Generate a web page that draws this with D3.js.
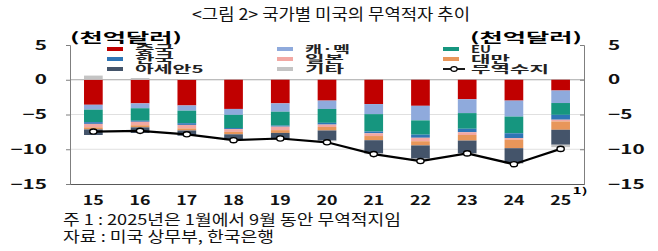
<!DOCTYPE html>
<html>
<head>
<meta charset="utf-8">
<script src="https://cdn.jsdelivr.net/npm/d3@7"></script>
<style>
  body { margin: 0; background: #fff; }
  text { font-family: "Noto Sans CJK KR", "Noto Sans", sans-serif; }
</style>
</head>
<body>
<svg id="chart" width="658" height="251"></svg>
<script>
// data (천억달러)
var years   = ["15","16","17","18","19","20","21","22","23","24","25"];
var china   = [-3.6, -3.4, -3.7, -4.2, -3.4, -3.0, -3.5, -3.75, -2.8, -3.0, -1.55];
var canmex  = [-0.7, -0.7, -0.75, -0.85, -1.2, -1.2, -1.45, -2.1, -2.0, -2.3, -1.8];
var eu      = [-1.8, -1.8, -1.8, -1.9, -2.0, -2.0, -2.5, -2.05, -2.25, -2.4, -1.7];
var korea   = [-0.25, -0.15, -0.25, -0.15, -0.15, -0.25, -0.25, -0.45, -0.5, -0.7, -0.7];
var japan   = [-0.5, -0.5, -0.5, -0.4, -0.5, -0.35, -0.4, -0.5, -0.4, -0.25, -0.25];
var taiwan  = [-0.3, -0.3, -0.3, -0.35, -0.4, -0.5, -0.6, -0.6, -0.8, -1.2, -1.2];
var asean   = [-0.8, -0.8, -0.75, -0.8, -0.95, -1.45, -1.9, -1.9, -1.85, -2.15, -2.15];
var etc     = [0.6, 0.25, 0.1, -0.05, -0.05, -0.1, -0.1, -0.2, -0.1, -0.1, -0.35];
var balance = [-7.45, -7.35, -7.85, -8.7, -8.45, -9.0, -10.7, -11.7, -10.6, -12.15, -9.95];

var keys   = ["중국", "캐·멕", "EU", "한국", "일본", "대만", "아세안5", "기타"];
var series = [china, canmex, eu, korea, japan, taiwan, asean, etc];
var colors = ["#c00000", "#8faadc", "#16967f", "#2e75b6", "#f2a8a3", "#e8965a", "#44546a", "#c4c4c4"];
var yTicks = [5, 0, -5, -10, -15];

// build table for d3.stack
var data = years.map(function(yr, i) {
    var row = {year: yr};
    keys.forEach(function(k, j) { row[k] = series[j][i]; });
    return row;
});

var svg = d3.select("#chart");
var plotL = 70, plotR = 584, plotT = 45, plotB = 184;

var x = d3.scaleBand().domain(years).range([plotL, plotR]).paddingInner(0.6).paddingOuter(0.3);
var y = d3.scaleLinear().domain([-15, 5]).range([plotB, plotT]);
var color = d3.scaleOrdinal().domain(keys).range(colors);

// rough text width for the stretched original lettering
function tlen(s) {
    var w = 0;
    for (var c of s) {
        if (/[가-힣]/.test(c)) w += 19.5;
        else if (c === "·") w += 6;
        else w += 10;
    }
    return w;
}

// title
svg.append("text").attr("x", 331).attr("y", 20).attr("text-anchor", "middle")
    .attr("font-size", 16).attr("textLength", 278).attr("lengthAdjust", "spacingAndGlyphs")
    .attr("fill", "#111").text("<그림 2> 국가별 미국의 무역적자 추이");

// unit labels
svg.append("text").attr("x", 70).attr("y", 42).attr("font-size", 13).attr("font-weight", "bold")
    .attr("textLength", 112).attr("lengthAdjust", "spacingAndGlyphs").text("(천억달러)");
svg.append("text").attr("x", 470).attr("y", 42).attr("font-size", 13).attr("font-weight", "bold")
    .attr("textLength", 112).attr("lengthAdjust", "spacingAndGlyphs").text("(천억달러)");

// gridlines
svg.append("g").selectAll("line").data([0, -5, -10]).enter().append("line")
    .attr("x1", plotL).attr("x2", plotR)
    .attr("y1", function(d) { return y(d); }).attr("y2", function(d) { return y(d); })
    .attr("stroke", function(d) { return d === 0 ? "#a6a6a6" : "#e0e0e0"; })
    .attr("stroke-width", 1);

// stacked bars
var stacked = d3.stack().keys(keys).offset(d3.stackOffsetDiverging)(data);
svg.append("g").selectAll("g").data(stacked).enter().append("g")
    .attr("fill", function(d) { return color(d.key); })
    .selectAll("rect").data(function(d) { return d; }).enter().append("rect")
        .attr("x", function(d) { return x(d.data.year); })
        .attr("y", function(d) { return y(Math.max(d[0], d[1])); })
        .attr("height", function(d) { return Math.abs(y(d[0]) - y(d[1])); })
        .attr("width", x.bandwidth());

// trade balance line
var line = d3.line()
    .x(function(d, i) { return x(years[i]) + x.bandwidth() / 2; })
    .y(function(d) { return y(d); });
svg.append("path").datum(balance).attr("d", line)
    .attr("fill", "none").attr("stroke", "#000").attr("stroke-width", 2.2);
svg.append("g").selectAll("ellipse").data(balance).enter().append("ellipse")
    .attr("cx", function(d, i) { return x(years[i]) + x.bandwidth() / 2; })
    .attr("cy", function(d) { return y(d); })
    .attr("rx", 3.6).attr("ry", 2.6)
    .attr("fill", "#fff").attr("stroke", "#000").attr("stroke-width", 1.4);

// axes
var yl = svg.append("g").attr("transform", "translate(" + plotL + ",0)")
    .call(d3.axisLeft(y).tickValues(yTicks).tickSize(4).tickPadding(19).tickFormat(d3.format("d")));
var yr = svg.append("g").attr("transform", "translate(" + plotR + ",0)")
    .call(d3.axisRight(y).tickValues(yTicks).tickSize(-4).tickPadding(24).tickFormat(d3.format("d")));
[yl, yr].forEach(function(g) {
    g.select(".domain").attr("stroke", "#7f7f7f");
    g.selectAll(".tick line").attr("stroke", "#7f7f7f");
    g.selectAll("text").attr("font-size", 13).attr("font-weight", "bold").attr("fill", "#111")
        .attr("font-family", "'Noto Sans CJK KR', sans-serif")
        .attr("lengthAdjust", "spacingAndGlyphs")
        .attr("textLength", function(d) { return String(d).length * 12.2; });
});

var xa = svg.append("g").attr("transform", "translate(0," + plotB + ")")
    .call(d3.axisBottom(x).tickSize(0).tickSizeOuter(0).tickPadding(12));
xa.select(".domain").attr("stroke", "#595959");
xa.selectAll("text").attr("font-size", 13).attr("font-weight", "bold").attr("fill", "#111")
    .attr("font-family", "'Noto Sans CJK KR', sans-serif")
    .attr("textLength", 21).attr("lengthAdjust", "spacingAndGlyphs");
svg.append("text").attr("x", x("25") + x.bandwidth() / 2 + 12).attr("y", 194)
    .attr("font-size", 9).attr("font-weight", "bold").attr("textLength", 15)
    .attr("lengthAdjust", "spacingAndGlyphs").text("1)");

// legend, 3 columns row by row
var legKeys = keys.concat(["무역수지"]);
var colX = [107, 277, 443];
var leg = svg.append("g").selectAll("g").data(legKeys).enter().append("g")
    .attr("transform", function(d, i) { return "translate(" + colX[i % 3] + "," + (49 + Math.floor(i / 3) * 10) + ")"; });
leg.filter(function(d) { return d !== "무역수지"; }).append("rect")
    .attr("x", 0).attr("y", -2).attr("width", 16).attr("height", 4)
    .attr("fill", function(d) { return color(d); });
leg.filter(function(d) { return d === "무역수지"; }).append("line")
    .attr("x1", 0).attr("x2", 22).attr("y1", 0).attr("y2", 0)
    .attr("stroke", "#000").attr("stroke-width", 1.8);
leg.filter(function(d) { return d === "무역수지"; }).append("ellipse")
    .attr("cx", 11).attr("cy", 0).attr("rx", 3.2).attr("ry", 2.4)
    .attr("fill", "#fff").attr("stroke", "#000").attr("stroke-width", 1.2);
leg.append("text").attr("x", 28).attr("y", 4)
    .attr("font-size", 10.5).attr("font-weight", "bold").attr("fill", "#222")
    .attr("textLength", function(d) { return tlen(d); }).attr("lengthAdjust", "spacingAndGlyphs")
    .text(function(d) { return d; });

// footnotes
svg.append("text").attr("x", 63).attr("y", 225).attr("font-size", 15).attr("fill", "#111")
    .attr("textLength", 338).attr("lengthAdjust", "spacingAndGlyphs")
    .text("주 1 : 2025년은 1월에서 9월 동안 무역적지임");
svg.append("text").attr("x", 63).attr("y", 242).attr("font-size", 15).attr("fill", "#111")
    .attr("textLength", 211).attr("lengthAdjust", "spacingAndGlyphs")
    .text("자료 : 미국 상무부, 한국은행");
</script>
</body>
</html>
